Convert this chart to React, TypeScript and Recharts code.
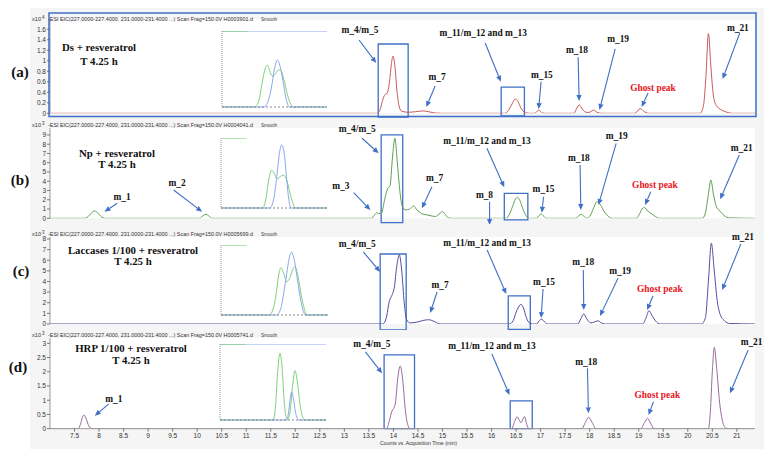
import React from 'react';
import { LineChart, Line, XAxis, YAxis, ReferenceLine, ReferenceArea, ReferenceDot, CartesianGrid } from 'recharts';

// ---------- shared axis ----------
const X_DOMAIN: [number, number] = [7.0, 21.37];
const X_TICKS = [7.5, 8, 8.5, 9, 9.5, 10, 10.5, 11, 11.5, 12, 12.5, 13, 13.5, 14, 14.5, 15, 15.5, 16, 16.5, 17, 17.5, 18, 18.5, 19, 19.5, 20, 20.5, 21];

// ---------- chromatogram traces: [time (min), counts] ----------
const traceA: [number, number][] = [
  [7.0, 0], [13.66, 0], [13.72, 0.05], [13.78, 0.25], [13.83, 0.36], [13.87, 0.38], [13.92, 0.6], [13.96, 0.95], [13.99, 1.09], [14.03, 0.9], [14.07, 0.45], [14.12, 0.12], [14.17, 0.04], [14.3, 0.02], [14.45, 0.03], [14.6, 0.045], [14.72, 0.03], [14.85, 0.005], [15.0, 0],
  [16.28, 0], [16.36, 0.08], [16.43, 0.2], [16.48, 0.27], [16.53, 0.24], [16.6, 0.1], [16.69, 0.01], [16.8, 0],
  [16.88, 0], [16.96, 0.06], [17.04, 0.005], [17.1, 0],
  [17.68, 0], [17.74, 0.1], [17.79, 0.16], [17.85, 0.08], [17.92, 0.02], [17.98, 0.015], [18.08, 0.06], [18.15, 0.02], [18.25, 0],
  [18.92, 0], [19.03, 0.09], [19.1, 0.04], [19.2, 0],
  [20.25, 0], [20.32, 0.15], [20.37, 0.7], [20.42, 1.52], [20.47, 0.9], [20.52, 0.35], [20.58, 0.15], [20.66, 0.08], [20.8, 0.02], [20.9, 0], [21.37, 0],
];
const traceB: [number, number][] = [
  [7.0, 0], [7.7, 0], [7.78, 0.2], [7.85, 0.6], [7.91, 0.79], [7.97, 0.6], [8.04, 0.2], [8.12, 0],
  [10.05, 0], [10.12, 0.3], [10.18, 0.43], [10.24, 0.25], [10.3, 0],
  [13.55, 0], [13.62, 0.4], [13.66, 0.6], [13.7, 0.5], [13.76, 0.6], [13.82, 2.0], [13.88, 3.2], [13.93, 3.5], [13.98, 6.5], [14.03, 8.64], [14.08, 6.0], [14.13, 3.0], [14.18, 1.3], [14.25, 0.9], [14.33, 1.0], [14.41, 1.33], [14.48, 0.9], [14.58, 0.5], [14.7, 0.35], [14.78, 0.25], [14.86, 0.2], [14.95, 0.55], [15.0, 0.72], [15.06, 0.4], [15.12, 0.05], [15.2, 0],
  [16.3, 0], [16.36, 0.4], [16.43, 1.3], [16.49, 2.1], [16.53, 2.27], [16.58, 1.9], [16.64, 1.0], [16.7, 0.3], [16.76, 0],
  [16.92, 0], [16.97, 0.3], [17.01, 0.46], [17.06, 0.25], [17.12, 0],
  [17.72, 0], [17.78, 0.3], [17.83, 0.43], [17.88, 0.25], [17.94, 0], [18.0, 0.2], [18.08, 1.1], [18.15, 1.8], [18.22, 1.45], [18.3, 0.7], [18.38, 0.2], [18.46, 0],
  [18.95, 0], [19.02, 0.5], [19.08, 1.1], [19.12, 1.15], [19.18, 0.8], [19.26, 0.5], [19.34, 0.2], [19.42, 0],
  [20.3, 0], [20.36, 0.6], [20.42, 2.6], [20.47, 4.14], [20.52, 2.7], [20.58, 1.3], [20.65, 0.8], [20.74, 0.3], [20.85, 0.05], [21.37, 0],
];
const traceC: [number, number][] = [
  [7.0, 0], [13.78, 0], [13.85, 0.5], [13.92, 2.2], [13.97, 2.7], [14.02, 3.5], [14.07, 5.5], [14.12, 6.5], [14.17, 5.0], [14.22, 2.0], [14.27, 0.4], [14.34, 0.1], [14.5, 0.2], [14.62, 0.35], [14.72, 0.4], [14.85, 0.2], [14.95, 0],
  [16.36, 0], [16.44, 0.3], [16.5, 1.1], [16.55, 1.6], [16.6, 1.85], [16.65, 1.5], [16.71, 0.6], [16.77, 0.1], [16.84, 0],
  [16.92, 0], [16.97, 0.3], [17.02, 0.45], [17.08, 0.2], [17.14, 0],
  [17.76, 0], [17.82, 0.5], [17.88, 0.95], [17.94, 0.5], [18.02, 0.1], [18.1, 0.2], [18.17, 0.3], [18.24, 0.1], [18.32, 0],
  [19.08, 0], [19.15, 0.6], [19.21, 1.25], [19.27, 0.8], [19.35, 0.25], [19.43, 0],
  [20.28, 0], [20.36, 0.6], [20.42, 4.0], [20.48, 7.6], [20.54, 5.0], [20.6, 2.2], [20.66, 0.9], [20.75, 0.3], [20.85, 0.05], [21.37, 0],
];
const traceD: [number, number][] = [
  [7.0, 0], [7.57, 0], [7.62, 0.15], [7.66, 0.4], [7.69, 0.48], [7.73, 0.38], [7.79, 0.1], [7.85, 0],
  [13.86, 0], [13.92, 0.3], [13.97, 0.62], [14.0, 0.7], [14.04, 0.9], [14.09, 1.8], [14.14, 2.2], [14.19, 1.7], [14.24, 0.7], [14.29, 0.15], [14.34, 0.01], [14.4, 0],
  [16.41, 0], [16.47, 0.25], [16.52, 0.42], [16.565, 0.3], [16.6, 0.21], [16.635, 0.32], [16.67, 0.43], [16.71, 0.2], [16.75, 0.02], [16.8, 0],
  [17.84, 0], [17.92, 0.25], [17.98, 0.4], [18.05, 0.22], [18.13, 0],
  [19.04, 0], [19.12, 0.22], [19.18, 0.36], [19.24, 0.2], [19.31, 0],
  [20.42, 0], [20.46, 0.6], [20.5, 2.0], [20.54, 2.86], [20.59, 2.1], [20.65, 0.9], [20.71, 0.25], [20.77, 0.03], [20.84, 0], [21.37, 0],
];

// ---------- y ticks ----------
const ticksA = [0, 0.2, 0.4, 0.6, 0.8, 1, 1.2, 1.4, 1.6];
const ticksB = [0, 1, 2, 3, 4, 5, 6, 7, 8, 9];
const ticksC = [0, 1, 2, 3, 4, 5, 6, 7, 8];
const ticksD = [0, 0.5, 1, 1.5, 2, 2.5, 3];

// ---------- annotations (data coordinates) ----------
type Note = [string, number, number, boolean?];
type Arrow = [number, number, number, number];
type Box = [number, number, number, number];

const notesA: Note[] = [['m_4/m_5', 13.32, 1.59], ['m_7', 14.89, 0.69], ['m_11/m_12 and m_13', 15.83, 1.53], ['m_15', 17.025, 0.73], ['m_18', 17.74, 1.205], ['m_19', 18.58, 1.415], ['Ghost peak', 19.29, 0.48, true], ['m_21', 21.02, 1.625]];
const arrowsA: Arrow[] = [[13.3, 1.396, 13.65, 0.958], [14.85, 0.52, 14.67, 0.12], [15.87, 1.34, 16.19, 0.6], [17.01, 0.6, 16.96, 0.08], [17.765, 1.07, 17.785, 0.234], [18.52, 1.225, 18.2, 0.063], [19.19, 0.387, 19.06, 0.12], [21.06, 1.53, 20.71, 0.653]];
const boxesA: Box[] = [[13.69, 14.3, -0.07, 1.32], [16.196, 16.67, -0.05, 0.5]];

const notesB: Note[] = [['m_1', 8.47, 2.27], ['m_2', 9.59, 3.84], ['m_3', 12.93, 3.49], ['m_4/m_5', 13.26, 9.61], ['m_7', 14.84, 4.32], ['m_8', 15.856, 2.52], ['m_11/m_12 and m_13', 15.905, 8.38], ['m_15', 17.06, 3.16], ['m_18', 17.78, 6.54], ['m_19', 18.55, 8.89], ['Ghost peak', 19.33, 3.6, true], ['m_21', 21.1, 7.56]];
const arrowsB: Arrow[] = [[8.37, 1.62, 8.11, 0.71], [9.52, 3.06, 10.1, 0.71], [13.19, 2.76, 13.53, 0.9], [13.36, 8.64, 13.7, 7.02], [14.785, 3.41, 14.58, 1.08], [15.96, 1.79, 15.96, -0.72], [15.905, 7.56, 16.26, 3.35], [17.06, 2.33, 17.025, 0.6], [17.805, 5.76, 17.82, 0.9], [18.54, 8.1, 18.18, 1.44], [19.245, 2.87, 19.13, 1.44], [21.05, 6.84, 20.66, 2.05]];
const boxesB: Box[] = [[13.75, 14.19, -0.47, 9.0], [16.26, 16.74, -0.18, 2.7]];

const notesC: Note[] = [['m_4/m_5', 13.26, 7.53], ['m_7', 14.95, 3.67], ['m_11/m_12 and m_13', 15.91, 7.62], ['m_15', 17.07, 3.95], ['m_18', 17.87, 5.84], ['m_19', 18.62, 4.99], ['Ghost peak', 19.43, 3.29, true], ['m_21', 21.125, 8.19]];
const arrowsC: Arrow[] = [[13.386, 6.78, 13.73, 4.89], [14.89, 3.01, 14.75, 1.04], [15.91, 6.96, 16.3, 2.82], [17.05, 3.29, 17.01, 0.56], [17.87, 5.08, 17.88, 1.32], [18.58, 4.33, 18.21, 0.75], [19.29, 2.64, 19.17, 1.32], [21.08, 7.53, 20.7, 3.2]];
const boxesC: Box[] = [[13.73, 14.26, -0.56, 6.59], [16.34, 16.79, -0.5, 2.64]];

const notesD: Note[] = [['m_1', 8.3, 1.03], ['m_4/m_5', 13.56, 2.975], ['m_11/m_12 and m_13', 16.007, 2.905], ['m_18', 17.93, 2.353], ['Ghost peak', 19.38, 1.184, true], ['m_21', 21.3, 3.056]];
const arrowsD: Arrow[] = [[8.199, 0.87, 7.913, 0.457], [13.43, 2.7, 13.77, 1.946], [16.007, 2.624, 16.366, 1.184], [17.955, 2.12, 17.975, 0.54], [19.3, 0.948, 19.2, 0.48], [21.23, 2.764, 20.86, 1.243]];
const boxesD: Box[] = [[13.81, 14.43, 0, 2.59], [16.38, 16.83, 0, 0.98]];

// ---------- inset traces: [relative time, relative counts %] ----------
const insetGreenA: [number, number][] = [[0, 0], [31, 0], [35, 8], [38, 30], [41, 50], [43, 55], [45, 50], [47, 42], [49, 41], [51, 44], [54, 49], [56, 48], [59, 36], [62, 18], [65, 5], [68, 0], [100, 0]];
const insetBlueA: [number, number][] = [[0, 0], [40, 0], [44, 8], [47, 25], [50, 50], [52.7, 62], [55, 55], [58, 35], [60, 18], [62, 6], [64, 0], [100, 0]];
const insetGreenB: [number, number][] = [[0, 0], [39, 0], [42, 10], [45, 40], [47.8, 54], [50, 50], [53, 42], [56, 45], [58.8, 47], [62, 40], [65, 22], [68, 6], [70, 0], [100, 0]];
const insetBlueB: [number, number][] = [[0, 0], [46, 0], [50, 15], [53, 50], [55.5, 82], [57.3, 90], [59.5, 80], [62, 40], [64, 12], [66, 0], [100, 0]];
const insetGreenC: [number, number][] = [[0, 0], [45, 0], [49, 10], [52, 35], [54, 58], [56, 67.6], [58.5, 60], [61.4, 47.6], [64, 52], [67, 65], [69.2, 69], [72, 55], [75, 28], [78, 8], [80, 0], [100, 0]];
const insetBlueC: [number, number][] = [[0, 0], [52, 0], [56, 10], [59, 35], [62, 65], [64, 83], [66, 89.6], [68, 82], [71, 55], [74, 25], [77, 5], [79, 0], [100, 0]];
const insetGreenD: [number, number][] = [[0, 0], [50, 0], [52.5, 20], [54.5, 65], [56.6, 88], [58.5, 70], [60.5, 25], [62.5, 3], [63.5, 0], [66, 10], [68.5, 45], [70.8, 65], [73, 50], [75.5, 20], [78, 4], [80.5, 0], [100, 0]];
const insetBlueD: [number, number][] = [[0, 0], [62.5, 0], [64.5, 8], [66, 25], [67.6, 37], [69.3, 28], [71, 12], [73, 2], [74.5, 0], [100, 0]];
const insetTopGreen: [number, number][] = [[0, 100], [24, 100]];
const insetTopBlue: [number, number][] = [[0, 100], [100, 100]];

// ---------- texts ----------
const panelLetters = ['(a)', '(b)', '(c)', '(d)'];
const sampleNames = ['Ds + resveratrol', 'Np + resveratrol', 'Laccases 1/100 + resveratrol', 'HRP 1/100 + resveratrol'];
const sampleTime = 'T 4.25 h';
const fileNames = ['H0003901.d', 'H0004041.d', 'H0005699.d', 'H0005741.d'];
const exponents = ['4', '3', '3', '3'];
const HEADER = '-ESI EIC(227.0000-227.4000, 231.0000-231.4000 ...) Scan Frag=150.0V ';
const X_TITLE = 'Counts vs. Acquisition Time (min)';

const BLUE = '#3f6fc6';
const SERIF = '"Liberation Serif", "Times New Roman", serif';
const SANS = '"Liberation Sans", Arial, sans-serif';

const ArrowShape = (p: any) => {
  const { x1, y1, x2, y2 } = p;
  const ang = Math.atan2(y2 - y1, x2 - x1);
  const L = 6, W = 2.6;
  const bx = x2 - L * Math.cos(ang), by = y2 - L * Math.sin(ang);
  const px = -Math.sin(ang) * W, py = Math.cos(ang) * W;
  return (
    <g>
      <line x1={x1} y1={y1} x2={bx} y2={by} stroke={BLUE} strokeWidth={1.1} />
      <polygon points={`${x2},${y2} ${bx + px},${by + py} ${bx - px},${by - py}`} fill={BLUE} />
    </g>
  );
};

type PanelCfg = {
  trace: [number, number][];
  color: string;
  yMax: number;
  ticks: number[];
  top: number;
  height: number;
  mt: number;
  mb: number;
  showX: boolean;
  notes: Note[];
  arrows: Arrow[];
  boxes: Box[];
};

const panels: PanelCfg[] = [
  { trace: traceA, color: '#c65a5a', yMax: 1.777, ticks: ticksA, top: 0, height: 120, mt: 20, mb: 6.7, showX: false, notes: notesA, arrows: arrowsA, boxes: boxesA },
  { trace: traceB, color: '#5f9e4f', yMax: 9.75, ticks: ticksB, top: 120, height: 104, mt: 8, mb: 5.7, showX: false, notes: notesB, arrows: arrowsB, boxes: boxesB },
  { trace: traceC, color: '#544c9e', yMax: 8.188, ticks: ticksC, top: 226, height: 104, mt: 11, mb: 6, showX: false, notes: notesC, arrows: arrowsC, boxes: boxesC },
  { trace: traceD, color: '#986a9c', yMax: 3.186, ticks: ticksD, top: 330, height: 129, mt: 8, mb: 0.3, showX: true, notes: notesD, arrows: arrowsD, boxes: boxesD },
];

function Panel({ cfg }: { cfg: PanelCfg }) {
  const rows = cfg.trace.map(([t, v]) => ({ t, v }));
  return (
    <div style={{ position: 'absolute', left: 0, top: cfg.top }}>
      <LineChart width={764} height={cfg.height} data={rows} margin={{ top: cfg.mt, right: 9, bottom: cfg.mb, left: 10 }}>
        <CartesianGrid horizontal={false} vertical={false} fill="#ffffff" />
        <XAxis dataKey="t" type="number" domain={X_DOMAIN} ticks={X_TICKS} allowDataOverflow hide={!cfg.showX} height={30} interval={0}
          tick={{ fontSize: 6.5, fill: '#333', fontFamily: SANS }} tickSize={3} tickMargin={2} tickLine={{ stroke: '#777' }} axisLine={{ stroke: '#999' }} />
        <YAxis type="number" domain={[0, cfg.yMax]} ticks={cfg.ticks} allowDataOverflow width={40} interval={0}
          tick={{ fontSize: 6.5, fill: '#333', fontFamily: SANS }} tickSize={3} tickMargin={1} tickLine={{ stroke: '#777' }} axisLine={{ stroke: '#999' }} />
        {cfg.boxes.map((b, i) => (
          <ReferenceArea key={'b' + i} x1={b[0]} x2={b[1]} y1={b[2]} y2={b[3]} fill="none" fillOpacity={0} stroke={BLUE} strokeWidth={1.3} ifOverflow="visible" />
        ))}
        <Line dataKey="v" type="monotone" stroke={cfg.color} strokeWidth={1} dot={false} activeDot={false} isAnimationActive={false} />
        {cfg.arrows.map((a, i) => (
          <ReferenceLine key={'a' + i} segment={[{ x: a[0], y: a[1] }, { x: a[2], y: a[3] }]} ifOverflow="visible" shape={ArrowShape} />
        ))}
        {cfg.notes.map((n, i) => (
          <ReferenceDot key={'n' + i} x={n[1]} y={n[2]} r={0} ifOverflow="visible"
            shape={(p: any) => (
              <text x={p.cx} y={p.cy} textAnchor="middle" dominantBaseline="central" fontFamily={SERIF} fontWeight="bold" fontSize={9.4} fill={n[3] ? '#e8141a' : '#111'}>{n[0]}</text>
            )} />
        ))}
      </LineChart>
    </div>
  );
}

type InsetCfg = { left: number; top: number; w: number; h: number; green: [number, number][]; blue: [number, number][]; topBlue: boolean };
const insets: InsetCfg[] = [
  { left: 222, top: 31, w: 105, h: 76, green: insetGreenA, blue: insetBlueA, topBlue: true },
  { left: 221, top: 138, w: 106, h: 70, green: insetGreenB, blue: insetBlueB, topBlue: false },
  { left: 221, top: 245, w: 107, h: 70, green: insetGreenC, blue: insetBlueC, topBlue: false },
  { left: 220, top: 344, w: 106, h: 76, green: insetGreenD, blue: insetBlueD, topBlue: true },
];

function Inset({ cfg }: { cfg: InsetCfg }) {
  const g = cfg.green.map(([u, v]) => ({ u, v }));
  const b = cfg.blue.map(([u, v]) => ({ u, v }));
  const tg = insetTopGreen.map(([u, v]) => ({ u, v }));
  const tb = insetTopBlue.map(([u, v]) => ({ u, v }));
  return (
    <div style={{ position: 'absolute', left: cfg.left - 2, top: cfg.top }}>
      <LineChart width={cfg.w + 2} height={cfg.h + 2} margin={{ top: 0, right: 0, bottom: 0, left: 0 }}>
        <XAxis dataKey="u" type="number" domain={[0, 100]} height={2} tick={false} tickLine={false} axisLine={{ stroke: '#888', strokeDasharray: '2 2' }} />
        <YAxis type="number" domain={[0, 100]} width={2} tick={false} tickLine={false} axisLine={{ stroke: '#999', strokeDasharray: '1 1' }} />
        <Line data={g} dataKey="v" type="monotone" stroke="#7fd07a" strokeWidth={1} dot={false} activeDot={false} isAnimationActive={false} />
        <Line data={b} dataKey="v" type="monotone" stroke="#8aa6ee" strokeWidth={1} dot={false} activeDot={false} isAnimationActive={false} />
        {cfg.topBlue && <Line data={tb} dataKey="v" type="linear" stroke="#8aa6ee" strokeWidth={1.2} dot={false} activeDot={false} isAnimationActive={false} />}
        <Line data={tg} dataKey="v" type="linear" stroke="#7fd07a" strokeWidth={1.2} dot={false} activeDot={false} isAnimationActive={false} />
      </LineChart>
    </div>
  );
}

const headerY = [19, 125, 234, 335];
const letterPos: [number, number][] = [[20, 72], [20, 180], [21, 271], [18, 367]];
const namePos: [number, number, number][] = [[99, 47, 61], [117, 152.7, 164.3], [133, 250, 260.7], [131, 348.3, 360]];

export default function App() {
  return (
    <div style={{ position: 'absolute', left: 0, top: 0, width: 764, height: 459, background: '#fff', fontFamily: SANS, overflow: 'hidden' }}>
      <div style={{ position: 'absolute', left: 30, top: 8, width: 734, height: 441, background: '#f5f5f5' }} />
      {panels.map((p, i) => <Panel key={i} cfg={p} />)}
      {insets.map((c, i) => <Inset key={i} cfg={c} />)}
      <svg width={764} height={459} style={{ position: 'absolute', left: 0, top: 0, pointerEvents: 'none' }}>
        <rect x={49} y={13} width={707} height={103.5} fill="none" stroke={BLUE} strokeWidth={1.5} />
        {headerY.map((y, i) => (
          <g key={i}>
            <text x={32} y={y + 1.5} fontSize={5.5} fill="#333" fontFamily={SANS} textLength={9} lengthAdjust="spacingAndGlyphs">x10</text>
            <text x={42} y={y - 0.5} fontSize={4.5} fill="#333" fontFamily={SANS}>{exponents[i]}</text>
            <text x={48} y={y + 2} fontSize={5.6} fill="#333" fontFamily={SANS} textLength={205} lengthAdjust="spacingAndGlyphs">{HEADER + fileNames[i]}</text>
            <text x={261} y={y + 2} fontSize={5.6} fill="#333" fontFamily={SANS} textLength={16} lengthAdjust="spacingAndGlyphs">Smooth</text>
          </g>
        ))}
        {letterPos.map(([x, y], i) => (
          <text key={i} x={x} y={y} textAnchor="middle" dominantBaseline="central" fontFamily={SERIF} fontWeight="bold" fontSize={15} fill="#111">{panelLetters[i]}</text>
        ))}
        {namePos.map(([x, y1, y2], i) => (
          <g key={i}>
            <text x={x} y={y1} textAnchor="middle" dominantBaseline="central" fontFamily={SERIF} fontWeight="bold" fontSize={10.8} fill="#111">{sampleNames[i]}</text>
            <text x={x} y={y2} textAnchor="middle" dominantBaseline="central" fontFamily={SERIF} fontWeight="bold" fontSize={10.8} fill="#111">{sampleTime}</text>
          </g>
        ))}
        <text x={380} y={445} fontSize={5.8} fill="#333" fontFamily={SANS} textLength={77} lengthAdjust="spacingAndGlyphs">{X_TITLE}</text>
      </svg>
    </div>
  );
}
